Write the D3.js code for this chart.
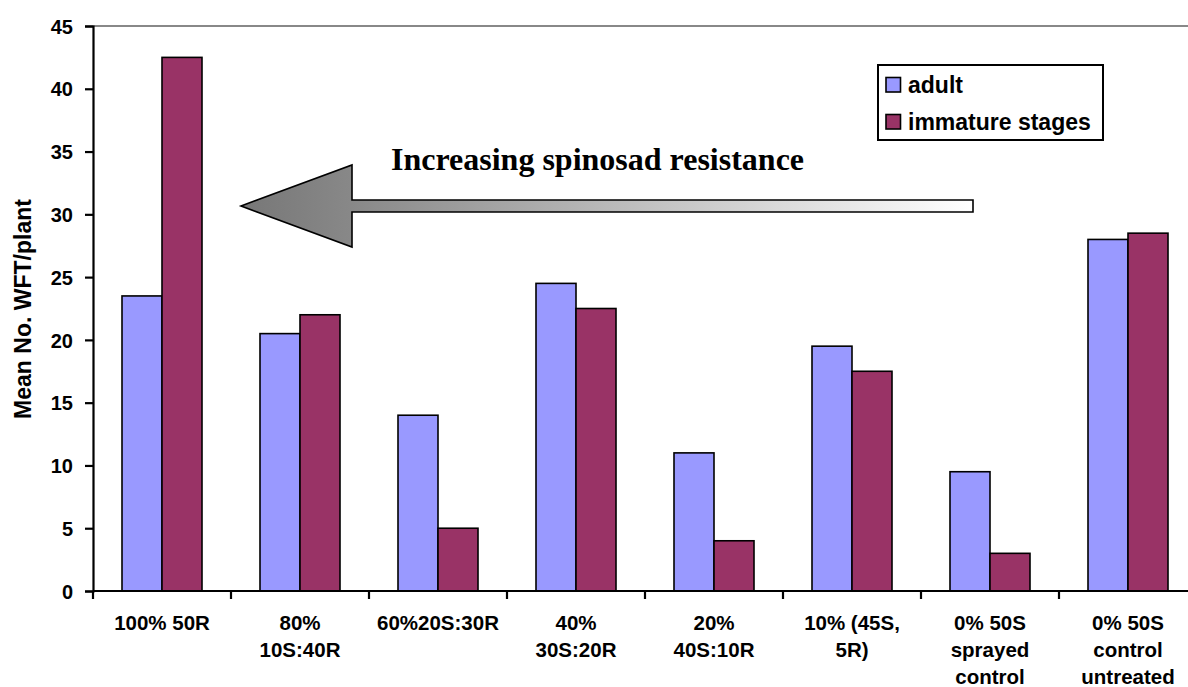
<!DOCTYPE html>
<html>
<head>
<meta charset="utf-8">
<script src="https://cdn.jsdelivr.net/npm/d3@7"></script>
<style>
  html, body { margin: 0; padding: 0; background: #fff; }
  svg { display: block; }
  text { font-family: Arial, "Liberation Sans", sans-serif; font-weight: bold; fill: #000; }
</style>
</head>
<body>
<svg id="chart" width="1188" height="687"></svg>
<script>
// Treatment groups (x axis), with wrapped label lines
const categories = ["100% 50R", "80% 10S:40R", "60%20S:30R", "40% 30S:20R",
                    "20% 40S:10R", "10% (45S, 5R)", "0% 50S sprayed control", "0% 50S control untreated"];
const categoryLines = [
  ["100% 50R"],
  ["80%", "10S:40R"],
  ["60%20S:30R"],
  ["40%", "30S:20R"],
  ["20%", "40S:10R"],
  ["10% (45S,", "5R)"],
  ["0% 50S", "sprayed", "control"],
  ["0% 50S", "control", "untreated"]
];
const seriesNames = ["adult", "immature stages"];
const adult = [23.5, 20.5, 14, 24.5, 11, 19.5, 9.5, 28];
const immature = [42.5, 22, 5, 22.5, 4, 17.5, 3, 28.5];
const yTicks = [0, 5, 10, 15, 20, 25, 30, 35, 40, 45];
const colors = ["#9999FF", "#993366"];

const svg = d3.select("#chart");
const plotLeft = 93, plotTop = 26, plotBottom = 591;
const bandW = 138;

const x = d3.scaleBand()
  .domain(categories)
  .range([plotLeft, plotLeft + bandW * categories.length])
  .paddingInner(0).paddingOuter(0);
const xSub = d3.scaleBand().domain(seriesNames).range([29, 109]);
const y = d3.scaleLinear().domain([0, 45]).range([plotBottom, plotTop]);

// top frame line
svg.append("line")
  .attr("x1", plotLeft).attr("x2", 1188).attr("y1", plotTop).attr("y2", plotTop)
  .attr("stroke", "#888").attr("stroke-width", 2);

// bars
const rows = categories.map((c, i) => ({ c, vals: [adult[i], immature[i]] }));
const groups = svg.append("g").selectAll("g").data(rows).join("g")
  .attr("transform", d => `translate(${x(d.c)},0)`);
groups.selectAll("rect")
  .data(d => d.vals.map((v, k) => ({ v, k })))
  .join("rect")
  .attr("x", d => xSub(seriesNames[d.k]))
  .attr("width", xSub.bandwidth())
  .attr("y", d => y(d.v))
  .attr("height", d => y(0) - y(d.v))
  .attr("fill", d => colors[d.k])
  .attr("stroke", "#000").attr("stroke-width", 1.6);

// y axis
const yAxis = svg.append("g").attr("transform", `translate(${plotLeft},0)`)
  .call(d3.axisLeft(y).tickValues(yTicks).tickSize(8).tickPadding(12));
yAxis.select(".domain").attr("stroke-width", 2.2);
yAxis.selectAll(".tick line").attr("stroke-width", 2.2);
yAxis.selectAll("text")
  .style("font-family", "Arial, 'Liberation Sans', sans-serif")
  .style("font-weight", "bold")
  .style("font-size", "20px").attr("dy", "0.36em");

// x axis
const xTickPos = d3.range(categories.length + 1).map(i => plotLeft + i * bandW);
svg.append("line")
  .attr("x1", plotLeft).attr("x2", 1188).attr("y1", plotBottom).attr("y2", plotBottom)
  .attr("stroke", "#000").attr("stroke-width", 2.2);
svg.append("g").selectAll("line").data(xTickPos).join("line")
  .attr("x1", d => d).attr("x2", d => d)
  .attr("y1", plotBottom).attr("y2", plotBottom + 8)
  .attr("stroke", "#000").attr("stroke-width", 2.2);

const xl = svg.append("g").selectAll("text").data(rows).join("text")
  .attr("text-anchor", "middle")
  .style("font-size", "20.5px")
  .attr("transform", d => `translate(${x(d.c) + bandW / 2},0)`);
xl.each(function(d, i) {
  d3.select(this).selectAll("tspan").data(categoryLines[i]).join("tspan")
    .attr("x", 0).attr("y", (t, j) => 630 + j * 27).text(t => t);
});

// y axis title
svg.append("text")
  .attr("transform", "translate(31,309) rotate(-90)")
  .attr("text-anchor", "middle")
  .style("font-size", "23px")
  .text("Mean No. WFT/plant");

// legend
const lg = svg.append("g");
lg.append("rect").attr("x", 878).attr("y", 65).attr("width", 225).attr("height", 75)
  .attr("fill", "#fff").attr("stroke", "#000").attr("stroke-width", 2);
seriesNames.forEach((n, k) => {
  const yy = 77.5 + k * 37;
  lg.append("rect").attr("x", 886).attr("y", yy).attr("width", 14.5).attr("height", 14.5)
    .attr("fill", colors[k]).attr("stroke", "#000").attr("stroke-width", 1.6);
  lg.append("text").attr("x", 908).attr("y", 93 + k * 36.5).style("font-size", "23px").text(n);
});

// arrow annotation
const defs = svg.append("defs");
const grad = defs.append("linearGradient").attr("id", "arrowFill")
  .attr("gradientUnits", "userSpaceOnUse")
  .attr("x1", 241).attr("x2", 973).attr("y1", 0).attr("y2", 0);
grad.append("stop").attr("offset", "0").attr("stop-color", "#777");
grad.append("stop").attr("offset", "0.15").attr("stop-color", "#888");
grad.append("stop").attr("offset", "1").attr("stop-color", "#fff");

svg.append("path")
  .attr("d", "M241,206 L352,165 L352,200 L973,200 L973,212 L352,212 L352,247 Z")
  .attr("fill", "url(#arrowFill)").attr("stroke", "#000").attr("stroke-width", 1.6)
  .attr("stroke-linejoin", "miter");

svg.append("text")
  .attr("x", 597.5).attr("y", 170)
  .attr("text-anchor", "middle")
  .style("font-family", "'Liberation Serif', 'Times New Roman', serif")
  .style("font-size", "32px")
  .text("Increasing spinosad resistance");
</script>
</body>
</html>
